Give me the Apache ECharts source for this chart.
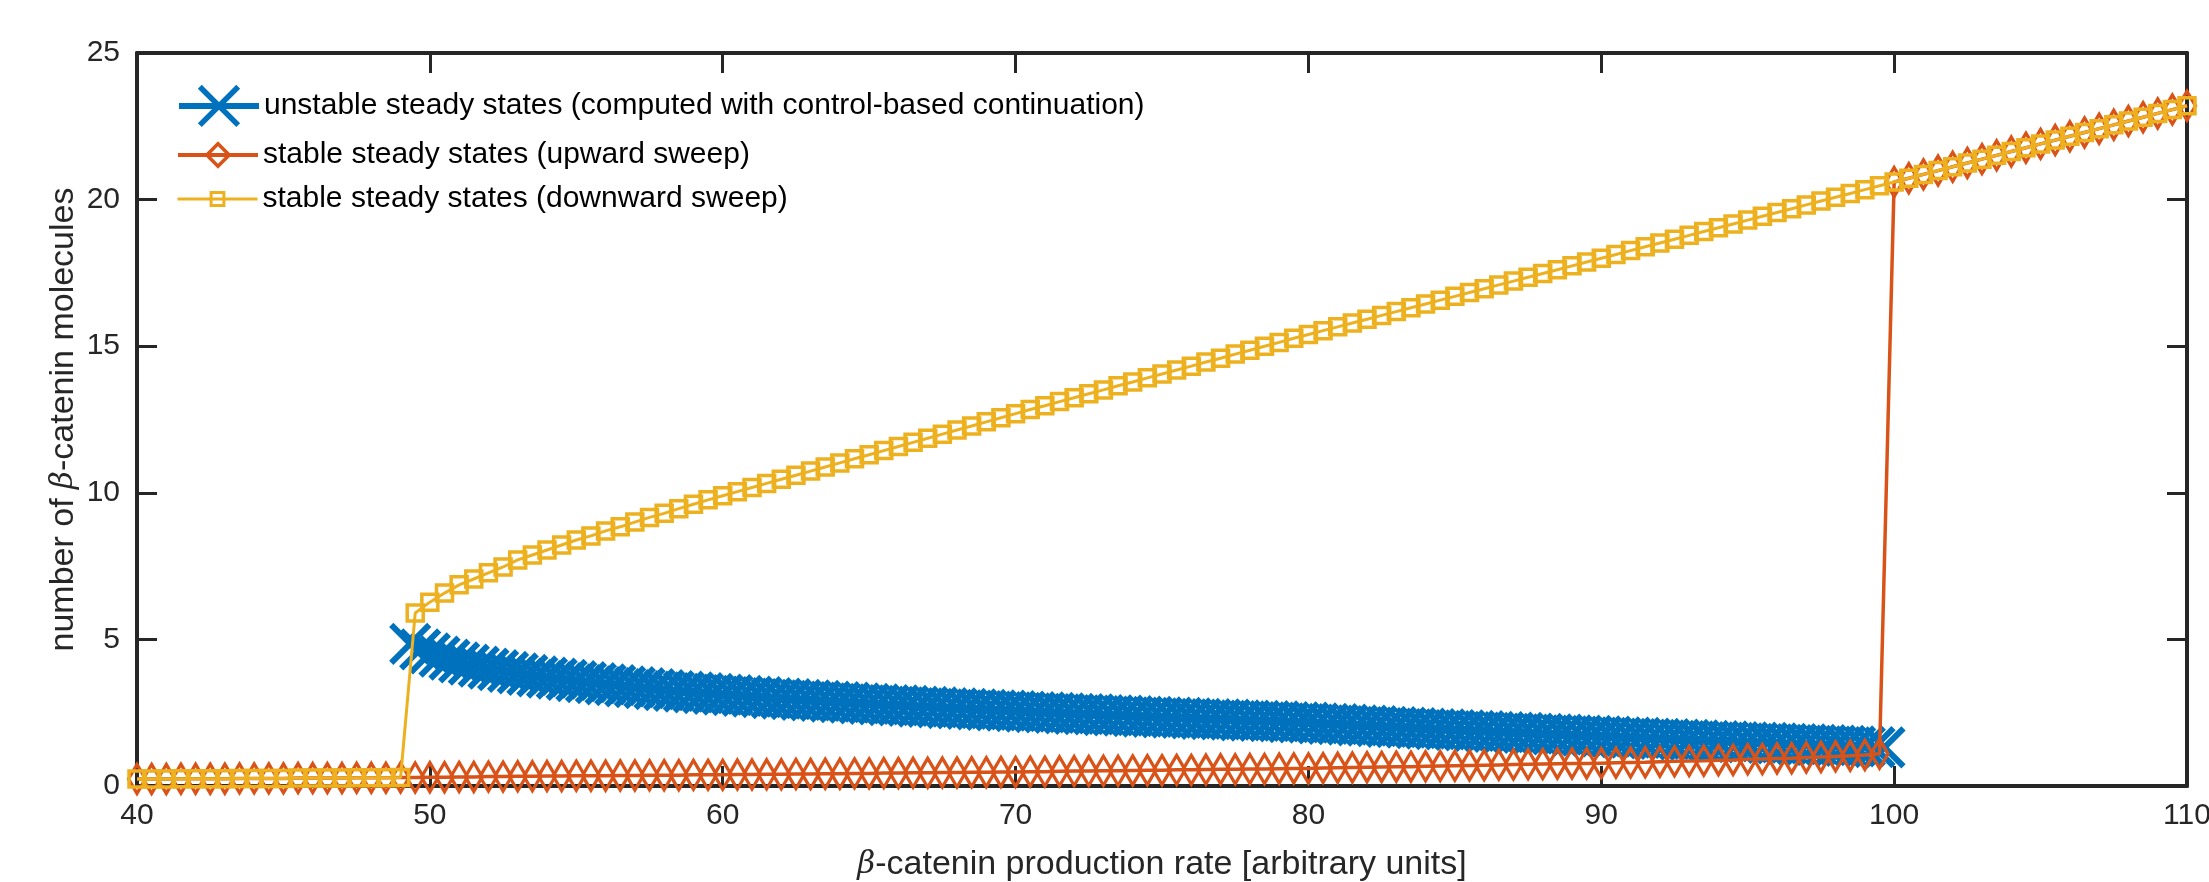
<!DOCTYPE html>
<html>
<head>
<meta charset="utf-8">
<script src="https://cdn.jsdelivr.net/npm/echarts@6.0.0/dist/echarts.min.js"></script>
<style>
  html, body { margin: 0; padding: 0; background: #fff; }
  #main { width: 2209px; height: 882px; }
</style>
</head>
<body>
<div id="main"></div>
<script>
// 参数扫描的横坐标 (40 ~ 110, 步长 0.5)
const sweepX = [
  40,40.5,41,41.5,42,42.5,43,43.5,44,44.5,
  45,45.5,46,46.5,47,47.5,48,48.5,49,49.5,
  50,50.5,51,51.5,52,52.5,53,53.5,54,54.5,
  55,55.5,56,56.5,57,57.5,58,58.5,59,59.5,
  60,60.5,61,61.5,62,62.5,63,63.5,64,64.5,
  65,65.5,66,66.5,67,67.5,68,68.5,69,69.5,
  70,70.5,71,71.5,72,72.5,73,73.5,74,74.5,
  75,75.5,76,76.5,77,77.5,78,78.5,79,79.5,
  80,80.5,81,81.5,82,82.5,83,83.5,84,84.5,
  85,85.5,86,86.5,87,87.5,88,88.5,89,89.5,
  90,90.5,91,91.5,92,92.5,93,93.5,94,94.5,
  95,95.5,96,96.5,97,97.5,98,98.5,99,99.5,
  100,100.5,101,101.5,102,102.5,103,103.5,104,104.5,
  105,105.5,106,106.5,107,107.5,108,108.5,109,109.5,
  110
];

// stable steady states (upward sweep)
const upwardY = [
  0.24,0.24,0.24,0.25,0.25,0.25,0.25,0.26,0.26,0.26,
  0.26,0.27,0.27,0.27,0.27,0.28,0.28,0.28,0.29,0.29,
  0.30,0.30,0.31,0.31,0.32,0.32,0.33,0.33,0.34,0.34,
  0.35,0.35,0.35,0.36,0.36,0.37,0.37,0.37,0.38,0.38,
  0.38,0.39,0.39,0.40,0.40,0.41,0.41,0.42,0.42,0.43,
  0.43,0.44,0.44,0.45,0.45,0.46,0.46,0.47,0.47,0.48,
  0.48,0.49,0.49,0.50,0.51,0.51,0.52,0.52,0.53,0.54,
  0.54,0.55,0.55,0.56,0.57,0.57,0.58,0.58,0.59,0.60,
  0.60,0.61,0.62,0.63,0.64,0.65,0.66,0.66,0.67,0.68,
  0.69,0.70,0.71,0.72,0.73,0.74,0.75,0.76,0.77,0.77,
  0.78,0.79,0.80,0.81,0.83,0.84,0.85,0.86,0.88,0.89,
  0.91,0.92,0.94,0.95,0.97,0.99,1.01,1.03,1.06,1.10,
  20.60,20.73,20.86,20.99,21.12,21.25,21.38,21.51,21.64,21.77,
  21.90,22.03,22.16,22.29,22.42,22.55,22.68,22.81,22.94,23.07,
  23.20
];

// stable steady states (downward sweep)
const downwardY = [
  0.24,0.24,0.24,0.25,0.25,0.25,0.25,0.26,0.26,0.26,
  0.26,0.27,0.27,0.27,0.27,0.28,0.28,0.28,0.29,5.90,
  6.27,6.58,6.86,7.06,7.27,7.47,7.71,7.88,8.05,8.22,
  8.39,8.53,8.70,8.84,9.00,9.16,9.30,9.46,9.61,9.76,
  9.90,10.04,10.18,10.32,10.46,10.60,10.74,10.88,11.02,11.16,
  11.30,11.44,11.58,11.72,11.86,12.00,12.14,12.28,12.42,12.56,
  12.70,12.84,12.97,13.11,13.24,13.38,13.51,13.65,13.78,13.92,
  14.05,14.19,14.32,14.46,14.59,14.73,14.86,15.00,15.13,15.27,
  15.40,15.53,15.66,15.79,15.92,16.05,16.18,16.31,16.44,16.57,
  16.70,16.83,16.96,17.09,17.22,17.35,17.48,17.61,17.74,17.87,
  18.00,18.13,18.26,18.39,18.52,18.65,18.78,18.91,19.04,19.17,
  19.30,19.43,19.56,19.69,19.82,19.95,20.08,20.21,20.34,20.47,
  20.60,20.73,20.86,20.99,21.12,21.25,21.38,21.51,21.64,21.77,
  21.90,22.03,22.16,22.29,22.42,22.55,22.68,22.81,22.94,23.07,
  23.20
];

// unstable steady states (control-based continuation)
const unstableX = [
  49.33,49.67,
  50,50.33,50.67, 51,51.33,51.67, 52,52.33,52.67, 53,53.33,53.67, 54,54.33,54.67,
  55,55.33,55.67, 56,56.33,56.67, 57,57.33,57.67, 58,58.33,58.67, 59,59.33,59.67,
  60,60.33,60.67, 61,61.33,61.67, 62,62.33,62.67, 63,63.33,63.67, 64,64.33,64.67,
  65,65.33,65.67, 66,66.33,66.67, 67,67.33,67.67, 68,68.33,68.67, 69,69.33,69.67,
  70,70.33,70.67, 71,71.33,71.67, 72,72.33,72.67, 73,73.33,73.67, 74,74.33,74.67,
  75,75.33,75.67, 76,76.33,76.67, 77,77.33,77.67, 78,78.33,78.67, 79,79.33,79.67,
  80,80.33,80.67, 81,81.33,81.67, 82,82.33,82.67, 83,83.33,83.67, 84,84.33,84.67,
  85,85.33,85.67, 86,86.33,86.67, 87,87.33,87.67, 88,88.33,88.67, 89,89.33,89.67,
  90,90.33,90.67, 91,91.33,91.67, 92,92.33,92.67, 93,93.33,93.67, 94,94.33,94.67,
  95,95.33,95.67, 96,96.33,96.67, 97,97.33,97.67, 98,98.33,98.67, 99,99.33,99.67
];
const unstableY = [
  4.85,4.66,
  4.52,4.41,4.31, 4.22,4.14,4.07, 4.00,3.95,3.89, 3.84,3.79,3.74, 3.70,3.66,3.62,
  3.58,3.54,3.51, 3.47,3.44,3.40, 3.37,3.34,3.30, 3.27,3.24,3.22, 3.19,3.17,3.14,
  3.12,3.10,3.07, 3.05,3.03,3.00, 2.98,2.96,2.94, 2.92,2.90,2.88, 2.86,2.84,2.82,
  2.80,2.78,2.76, 2.75,2.73,2.71, 2.70,2.68,2.66, 2.65,2.63,2.61, 2.60,2.58,2.57,
  2.55,2.54,2.52, 2.51,2.49,2.48, 2.46,2.45,2.44, 2.42,2.41,2.40, 2.38,2.37,2.36,
  2.34,2.33,2.32, 2.31,2.29,2.28, 2.27,2.26,2.24, 2.23,2.22,2.21, 2.20,2.18,2.17,
  2.16,2.14,2.12, 2.11,2.09,2.07, 2.06,2.04,2.02, 2.01,1.99,1.97, 1.96,1.94,1.93,
  1.91,1.90,1.88, 1.87,1.85,1.84, 1.82,1.81,1.79, 1.78,1.76,1.75, 1.73,1.72,1.71,
  1.69,1.68,1.66, 1.65,1.64,1.62, 1.61,1.60,1.58, 1.57,1.56,1.54, 1.53,1.52,1.50,
  1.49,1.48,1.47, 1.45,1.44,1.43, 1.42,1.40,1.39, 1.38,1.37,1.35, 1.34,1.33,1.32
];

const names = [
  'unstable steady states (computed with control-based continuation)',
  'stable steady states (upward sweep)',
  'stable steady states (downward sweep)'
];

const BLUE = '#0072BD', ORANGE = '#D95319', YELLOW = '#EDB120';
const AXIS = '#262626';
const FONT = "'Liberation Sans', Arial, Helvetica, sans-serif";
const NONE = 'rgba(0,0,0,0)';
const CROSS = 'path://M0,0L10,10M10,0L0,10';
const TALL_DIAMOND = 'path://M5,0L10,9L5,18L0,9Z';

let myChart = echarts.init(document.getElementById('main'));

function pairs(xs, ys) {
  return xs.map((x, i) => [x, ys[i]]);
}

// 每个图例单独一个组件, 这样图标大小可以不同
function legendFor(name, centerY, h, color, lineW, borderW) {
  let boxH = Math.max(h, 40);
  return {
    left: 171,
    top: centerY - boxH / 2,
    data: [name],
    itemWidth: 80,
    itemHeight: h,
    selectedMode: false,
    textStyle: { color: '#000', fontSize: 30, lineHeight: 40, fontFamily: FONT },
    lineStyle: { color: color, width: lineW },
    itemStyle: { color: NONE, borderColor: color, borderWidth: borderW }
  };
}

let xTickCommon = {
  type: 'value', min: 40, max: 110, interval: 10,
  axisLine: { show: true, onZero: false, lineStyle: { color: AXIS, width: 4 } },
  axisTick: { show: true, inside: true, length: 20, lineStyle: { color: AXIS, width: 3 } },
  splitLine: { show: false }
};
let yTickCommon = {
  type: 'value', min: 0, max: 25, interval: 5,
  axisLine: { show: true, onZero: false, lineStyle: { color: AXIS, width: 4 } },
  axisTick: { show: true, inside: true, length: 20, lineStyle: { color: AXIS, width: 3 } },
  splitLine: { show: false }
};

let nameStyle = {
  color: AXIS, fontSize: 34, fontFamily: FONT,
  rich: { b: { fontStyle: 'italic', fontFamily: "'DejaVu Serif', serif", fontSize: 31, color: AXIS } }
};

let option = {
  animation: false,
  backgroundColor: '#fff',
  grid: { left: 137, right: 22, top: 53, bottom: 96, outerBoundsMode: 'none' },
  legend: [
    legendFor(names[0], 103, 48, BLUE, 6, 5.5),
    legendFor(names[1], 150, 28, ORANGE, 4, 3.5),
    legendFor(names[2], 194, 16, YELLOW, 3, 3)
  ],
  xAxis: [
    Object.assign({}, xTickCommon, {
      position: 'bottom',
      name: '{b|β}-catenin production rate [arbitrary units]',
      nameLocation: 'middle',
      nameGap: 62,
      nameMoveOverlap: false,
      nameTextStyle: nameStyle,
      axisLabel: { color: AXIS, fontSize: 30, fontFamily: FONT, margin: 15, showMaxLabel: true, showMinLabel: true }
    }),
    Object.assign({}, xTickCommon, {
      position: 'top',
      axisLabel: { show: false }
    })
  ],
  yAxis: [
    Object.assign({}, yTickCommon, {
      position: 'left',
      name: 'number of {b|β}-catenin molecules',
      nameLocation: 'middle',
      nameGap: 56,
      nameMoveOverlap: false,
      nameTextStyle: nameStyle,
      axisLabel: { color: AXIS, fontSize: 30, fontFamily: FONT, margin: 17 }
    }),
    Object.assign({}, yTickCommon, {
      position: 'right',
      axisLabel: { show: false }
    })
  ],
  series: [
    {
      name: names[0],
      type: 'line',
      z: 2,
      clip: false,
      data: pairs(unstableX, unstableY),
      symbol: CROSS,
      symbolSize: 38,
      lineStyle: { color: BLUE, width: 3 },
      itemStyle: { color: NONE, borderColor: BLUE, borderWidth: 6 }
    },
    {
      name: names[1],
      type: 'line',
      z: 3,
      clip: false,
      data: pairs(sweepX, upwardY),
      symbol: TALL_DIAMOND,
      symbolSize: [17, 29],
      lineStyle: { color: ORANGE, width: 3.5 },
      itemStyle: { color: NONE, borderColor: ORANGE, borderWidth: 3.5 }
    },
    {
      name: names[2],
      type: 'line',
      z: 4,
      clip: false,
      data: pairs(sweepX, downwardY),
      symbol: 'rect',
      symbolSize: 16,
      lineStyle: { color: YELLOW, width: 3 },
      itemStyle: { color: NONE, borderColor: YELLOW, borderWidth: 3.5 }
    }
  ]
};

myChart.setOption(option);
</script>
</body>
</html>
